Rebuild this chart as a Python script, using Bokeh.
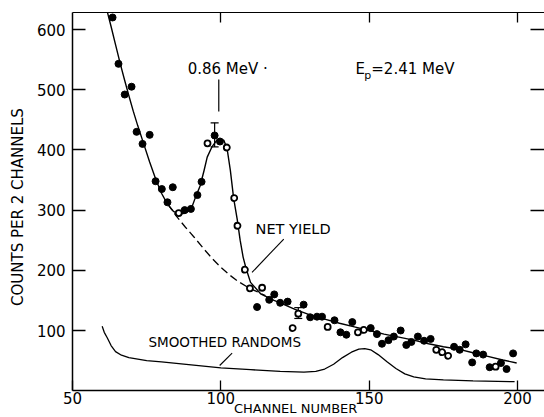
import math
from bokeh.plotting import figure
from bokeh.models import (Label, Whisker, TeeHead, ColumnDataSource, LinearAxis,
                          FixedTicker, Range1d)
from bokeh.embed import file_html
from bokeh.resources import INLINE

# ---- data ----
filled_x = [63.5, 65.5, 67.6, 69.9, 71.6, 73.6, 76.0, 78.0, 80.1, 83.8, 82.0, 87.8, 89.9,
            92.1, 93.5, 97.9, 99.7, 112.2, 116.3, 118.0, 120.0, 122.5, 127.9, 130.1, 132.4,
            134.1, 138.3, 140.3, 142.3, 144.3, 150.5, 152.6, 154.3, 156.5, 158.3, 160.6,
            162.5, 164.2, 166.4, 168.5, 170.7, 178.6, 180.5, 182.5, 184.7, 186.1, 188.4,
            190.6, 194.4, 196.3, 198.5]
filled_y = [620, 543, 492, 505, 430, 410, 425, 348, 335, 338, 313, 300, 302,
            325, 347, 424, 414, 139, 151, 160, 146, 148, 143, 122, 123,
            123, 117, 97, 93, 114, 104, 94, 78, 84, 90, 100,
            76, 81, 90, 83, 86, 73, 68, 77, 47, 62, 60,
            39, 46, 36, 62]

open_x = [85.8, 95.5, 102.0, 104.5, 105.6, 108.1, 109.8, 113.9, 124.2, 126.1, 136.0,
          146.2, 148.2, 172.6, 174.6, 176.6, 192.6]
open_y = [295, 411, 404, 320, 274, 201, 170, 171, 104, 128, 106,
          97, 101, 68, 64, 58, 40]

err_x = [97.9, 126.1]
err_lower = [405, 120]
err_upper = [445, 138]

net_x = [61.8, 63, 64.5, 66, 67.5, 69, 70.5, 72, 74, 76, 78, 80, 82, 84, 86, 88, 90, 91.5,
         93, 94.3, 95.4, 97.1, 98.8, 101, 102.1, 103.2, 104.3, 105.5, 106.5, 107.5, 108.5,
         110, 113.4, 117.9, 120, 125, 130, 135, 140, 145, 150, 155, 160, 165, 170, 175,
         180, 185, 190, 195, 199.7]
net_y = [628, 605, 575, 545, 517, 490, 464, 440, 410, 380, 352, 328, 310, 298, 293, 295,
         302, 322, 340, 365, 388, 406, 417, 416, 402, 366, 320, 285, 250, 222, 203,
         180, 161, 150, 146, 135, 126, 119, 112, 106, 100, 94, 89, 84, 78, 73,
         69, 63, 57, 51, 46]

bg_x = [82, 85, 88, 91, 94, 97, 100, 103, 106, 109, 112, 115]
bg_y = [311, 290, 272, 255, 237, 220, 205, 192, 181, 172, 165, 158]

rnd_x = [60.0, 60.7, 61.7, 63, 64.5, 66.5, 69, 75, 80, 90, 100, 110, 120, 128, 132, 135,
         138, 141, 144, 146.5, 148.5, 150.5, 153, 156, 159, 162, 165, 169, 175, 185, 199]
rnd_y = [107, 97, 88, 75, 65, 59, 55, 50, 48, 43, 38, 35, 32, 31, 32, 36,
         44, 55, 64, 69, 70, 68, 60, 48, 37, 28, 23, 19.5, 18, 16.5, 15]

x_ticks = [50, 100, 150, 200]
top_ticks = [100, 150, 200]
y_ticks = [100, 200, 300, 400, 500, 600]

FONT = "DejaVu Sans"
X0, X1 = 50, 209.08      # channel axis extent
Y0, Y1 = 0, 628          # counts axis extent

# the frame covers the whole canvas; the axes are placed at fixed data positions
p = figure(width=544, height=417, x_range=Range1d(25.73, X1), y_range=Range1d(-44.5, 648.2),
           output_backend="svg", toolbar_location=None,
           min_border_left=0, min_border_right=0, min_border_top=0, min_border_bottom=0)
p.outline_line_color = None
p.grid.visible = False
p.background_fill_color = "white"
p.border_fill_color = "white"

def style_axis(ax, ticks, tick_in, labels=True):
    ax.ticker = FixedTicker(ticks=ticks)
    ax.major_tick_in = tick_in
    ax.major_tick_out = 0
    ax.major_tick_line_color = "black"
    ax.major_tick_line_width = 1.3
    ax.minor_tick_line_color = None
    if labels:
        ax.major_label_text_font = FONT
        ax.major_label_text_font_size = "15px"
        ax.major_label_text_color = "black"
    else:
        ax.major_label_text_font_size = "1px"
        ax.major_label_text_color = None
        ax.major_label_standoff = 0

xa = p.xaxis[0]
xa.fixed_location = Y0
xa.bounds = (X0, X1)
style_axis(xa, x_ticks, 10)
xa.major_label_standoff = 1
xa.axis_line_color = "black"
xa.axis_line_width = 1.5

ya = p.yaxis[0]
ya.fixed_location = X0
ya.bounds = (Y0, Y1)
style_axis(ya, y_ticks, 13)
ya.major_label_standoff = 7
ya.axis_line_color = "black"
ya.axis_line_width = 1.5

top = LinearAxis(fixed_location=Y1, bounds=(X0, X1), axis_line_color="black",
                 axis_line_width=1.2)
style_axis(top, top_ticks, 10, labels=False)
p.add_layout(top, "above")

right = LinearAxis(fixed_location=X1 - 0.05, bounds=(Y0, Y1), axis_line_color=None)
style_axis(right, y_ticks, 14, labels=False)
p.add_layout(right, "right")

# curves
p.line(net_x, net_y, line_color="black", line_width=1.4)
p.line(bg_x, bg_y, line_color="black", line_width=1.3, line_dash="8 4")
p.line(rnd_x, rnd_y, line_color="black", line_width=1.3)

# error bars
esrc = ColumnDataSource(data=dict(base=err_x, lower=err_lower, upper=err_upper))
p.add_layout(Whisker(source=esrc, base="base", lower="lower", upper="upper",
                     dimension="height", line_color="black", line_width=1.2,
                     upper_head=TeeHead(size=8, line_color="black", line_width=1.2),
                     lower_head=TeeHead(size=8, line_color="black", line_width=1.2)))

# points
p.scatter(filled_x, filled_y, size=7, fill_color="black", line_color="black")
p.scatter(open_x, open_y, size=6, fill_color="white", line_color="black", line_width=1.8)

# annotation lines
p.segment(x0=[99.3], y0=[464], x1=[99.3], y1=[517], line_color="black", line_width=1.2)
p.segment(x0=[121.2], y0=[252], x1=[110.5], y1=[196.5], line_color="black", line_width=1.1)
p.segment(x0=[103.8], y0=[62.3], x1=[99.6], y1=[41.9], line_color="black", line_width=1.1)

def lab(x, y, t, size="15px", **kw):
    p.add_layout(Label(x=x, y=y, text=t, text_font=FONT, text_font_size=size,
                       text_color="black", text_baseline="alphabetic", **kw))

lab(88.8, 533.6, "0.86 MeV \u00b7")
lab(145.4, 533.6, "E")
lab(148.3, 523.0, "p", size="11px")
lab(150.7, 533.6, "=2.41 MeV")
lab(111.7, 268.6, "NET YIELD", size="14.5px")
lab(75.6, 80.6, "SMOOTHED RANDOMS", size="13.5px")
lab(125.2, -29.5, "CHANNEL NUMBER", size="13px", text_align="center")
lab(31.5, 305.0, "COUNTS PER 2 CHANNELS", size="15px", text_align="center",
    angle=math.pi / 2)

open("out.html", "w").write(file_html(p, INLINE))
